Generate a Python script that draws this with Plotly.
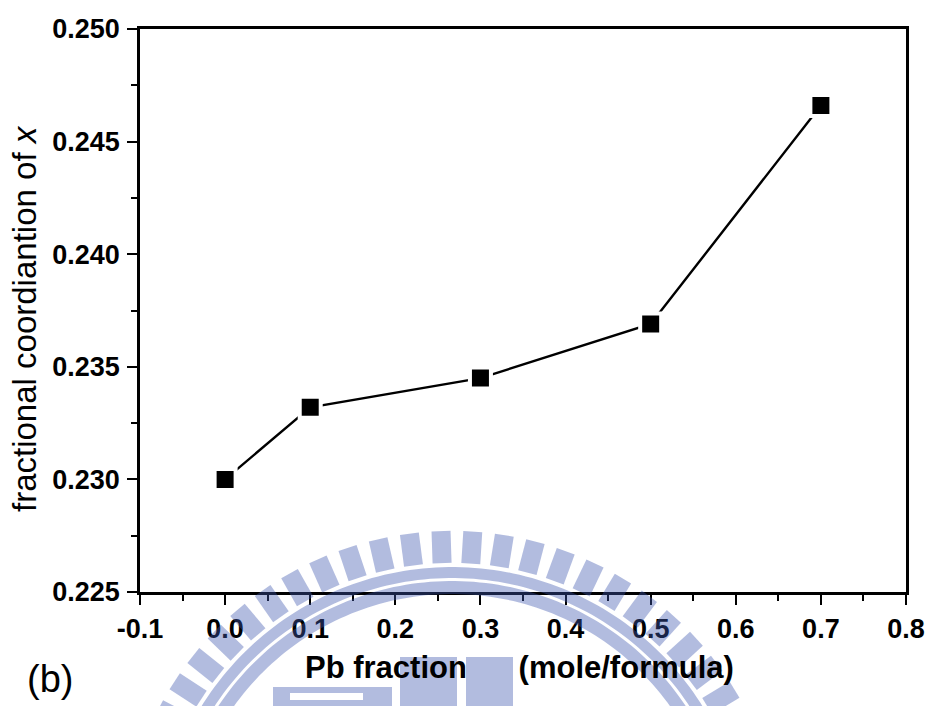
import numpy as np
import plotly.graph_objects as go

# ---- data -------------------------------------------------------------
pb_fraction = [0.0, 0.1, 0.3, 0.5, 0.7]
frac_coord_x = [0.2300, 0.2332, 0.2345, 0.2369, 0.2466]

x_range = [-0.1, 0.8]
y_range = [0.225, 0.250]
x_ticks = [-0.1, 0.0, 0.1, 0.2, 0.3, 0.4, 0.5, 0.6, 0.7, 0.8]
x_tick_text = ["-0.1", "0.0", "0.1", "0.2", "0.3", "0.4", "0.5", "0.6", "0.7", "0.8"]
y_ticks = [0.225, 0.230, 0.235, 0.240, 0.245, 0.250]
y_tick_text = ["0.225", "0.230", "0.235", "0.240", "0.245", "0.250"]

# ---- page geometry ----------------------------------------------------
W, H = 927, 706
ML, MR, MT, MB = 140, 21, 29, 114
PW, PH = W - ML - MR, H - MT - MB


def px(xp):
    """pixel x -> paper x"""
    return (xp - ML) / PW


def py(yp):
    """pixel y -> paper y"""
    return (H - MB - yp) / PH


def poly_path(pts):
    return "M " + " L ".join(f"{px(a):.5f},{py(b):.5f}" for a, b in pts) + " Z"


# ---- watermark emblem (light blue seal) -------------------------------
WM_FILL = "rgb(62,87,175)"
WM_OPACITY = 0.4
cx, cy = 452, 862


def ring_sector(r_in, r_out, a0, a1, n=120):
    ang = np.radians(np.linspace(a0, a1, n))
    outer = [(cx + r_out * np.cos(t), cy - r_out * np.sin(t)) for t in ang]
    inner = [(cx + r_in * np.cos(t), cy - r_in * np.sin(t)) for t in ang[::-1]]
    return poly_path(outer + inner)


def radial_bar(theta, r_in, r_out, width):
    t = np.radians(theta)
    u = np.array([np.cos(t), -np.sin(t)])
    v = np.array([np.sin(t), np.cos(t)])
    c = np.array([cx, cy])
    pts = [c + r_in * u - width / 2 * v, c + r_out * u - width / 2 * v,
           c + r_out * u + width / 2 * v, c + r_in * u + width / 2 * v]
    return poly_path([tuple(p) for p in pts])


shapes = []
for k in range(-14, 15):
    th = 91.9 + 5.5 * k
    if 8 < th < 172:
        shapes.append(radial_bar(th, 299, 331, 19))
shapes.append(ring_sector(284, 295, 15, 165))
shapes.append(ring_sector(268, 281, 15, 165))

wm_rects = [
    (273, 687, 392, 693), (273, 700, 392, 706),
    (273, 693, 290, 700), (363, 693, 392, 700),
    (400, 657, 457, 706), (466, 657, 513, 706),
]

layout_shapes = [
    dict(type="path", path=p, xref="paper", yref="paper", fillcolor=WM_FILL,
         opacity=WM_OPACITY, line=dict(width=0), layer="above")
    for p in shapes
]
for x0, y0, x1, y1 in wm_rects:
    layout_shapes.append(dict(type="rect", xref="paper", yref="paper",
                              x0=px(x0), x1=px(x1), y0=py(y1), y1=py(y0),
                              fillcolor=WM_FILL, opacity=WM_OPACITY,
                              line=dict(width=0), layer="above"))

# ---- figure -----------------------------------------------------------
fig = go.Figure()
fig.add_trace(go.Scatter(
    x=pb_fraction, y=frac_coord_x, mode="lines+markers",
    line=dict(color="black", width=2.4),
    marker=dict(symbol="square", size=21, color="black",
                line=dict(color="white", width=4)),
    showlegend=False, cliponaxis=False,
))

tick_font = dict(family="Liberation Sans, Arial", size=27, color="black", weight=700)

fig.update_xaxes(
    range=x_range, tickvals=x_ticks, ticktext=x_tick_text,
    showgrid=False, zeroline=False, automargin=False,
    showline=True, linecolor="black", linewidth=2.5, mirror=True,
    ticks="outside", ticklen=10, tickwidth=2, tickcolor="black",
    minor=dict(dtick=0.05, tick0=-0.1, ticks="outside", ticklen=6,
               tickwidth=2, tickcolor="black"),
    tickfont=tick_font, ticklabelstandoff=1,
)
fig.update_yaxes(
    range=y_range, tickvals=y_ticks, ticktext=y_tick_text,
    showgrid=False, zeroline=False, automargin=False,
    showline=True, linecolor="black", linewidth=2.5, mirror=True,
    ticks="outside", ticklen=10, tickwidth=2, tickcolor="black",
    minor=dict(dtick=0.0025, tick0=0.225, ticks="outside", ticklen=6,
               tickwidth=2, tickcolor="black"),
    tickfont=tick_font, ticklabelstandoff=2,
)

annotations = [
    dict(text="fractional coordiantion of <i>x</i>", textangle=-90,
         x=px(25), y=py(319), xref="paper", yref="paper",
         xanchor="center", yanchor="middle", showarrow=False,
         font=dict(family="Liberation Sans, Arial", size=33, color="black")),
    dict(text="Pb fraction" + "\u00a0" * 6 + "(mole/formula)",
         x=px(519), y=py(667), xref="paper", yref="paper",
         xanchor="center", yanchor="middle", showarrow=False,
         font=dict(family="Liberation Sans, Arial", size=31, color="black",
                   weight=700)),
    dict(text="(b)", x=px(50), y=py(679), xref="paper", yref="paper",
         xanchor="center", yanchor="middle", showarrow=False,
         font=dict(family="Liberation Sans, Arial", size=38, color="black")),
]

fig.update_layout(
    width=W, height=H,
    margin=dict(l=ML, r=MR, t=MT, b=MB, pad=0),
    paper_bgcolor="white", plot_bgcolor="white",
    shapes=layout_shapes, annotations=annotations,
)

fig.write_html("out.html")
